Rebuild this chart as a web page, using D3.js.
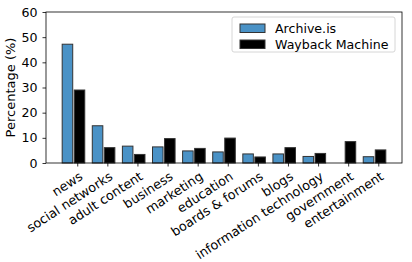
<!DOCTYPE html>
<html lang="en">
<head>
    <meta charset="UTF-8">
    <title>Archive.is vs Wayback Machine by category</title>
    <script src="https://d3js.org/d3.v7.min.js"></script>
    <style>
        body { margin: 0; background: #fff; }
        svg text { font-family: "DejaVu Sans", sans-serif; fill: #000; }
        .axis path, .axis line { stroke: #000; stroke-width: 0.8px; }
    </style>
</head>
<body>
    <svg id="chart"></svg>
    <script>
        // data
        const categories = ["news", "social networks", "adult content", "business", "marketing",
            "education", "boards & forums", "blogs", "information technology", "government", "entertainment"];
        const archiveIs = [47.2, 14.8, 6.7, 6.4, 4.8, 4.4, 3.6, 3.6, 2.6, 0, 2.5];
        const wayback = [29.0, 6.1, 3.4, 9.7, 5.8, 9.9, 2.4, 6.1, 3.8, 8.5, 5.2];
        const yTicks = [0, 10, 20, 30, 40, 50, 60];

        const W = 412, H = 262;
        const plot = { left: 46, right: 402, top: 12, bottom: 163 };
        const barW = 0.35;
        const fs = "12.6px";

        const svg = d3.select("#chart").attr("width", W).attr("height", H);

        // x domain with matplotlib-style 5% margins around the bars
        const lo = -0.5, hi = categories.length - 1 - 0.1 + barW;
        const pad = (hi - lo) * 0.05;
        const x = d3.scaleLinear().domain([lo - pad, hi + pad]).range([plot.left, plot.right]);
        const y = d3.scaleLinear().domain([0, 60]).range([plot.bottom, plot.top]);

        // bars
        svg.append("g").selectAll("rect")
            .data(archiveIs)
            .enter().append("rect")
            .attr("x", (d, i) => x(i - 0.5))
            .attr("width", x(barW) - x(0))
            .attr("y", d => y(d))
            .attr("height", d => y(0) - y(d))
            .attr("fill", "#4a92c6")
            .attr("stroke", "#333")
            .attr("stroke-width", 1);

        svg.append("g").selectAll("rect")
            .data(wayback)
            .enter().append("rect")
            .attr("x", (d, i) => x(i - 0.1))
            .attr("width", x(barW) - x(0))
            .attr("y", d => y(d))
            .attr("height", d => y(0) - y(d))
            .attr("fill", "#000")
            .attr("stroke", "#333")
            .attr("stroke-width", 1);

        // frame
        svg.append("rect")
            .attr("x", plot.left).attr("y", plot.top)
            .attr("width", plot.right - plot.left).attr("height", plot.bottom - plot.top)
            .attr("fill", "none").attr("stroke", "#000").attr("stroke-width", 0.8);

        // y axis
        const yAxis = svg.append("g")
            .attr("class", "axis")
            .attr("transform", `translate(${plot.left},0)`)
            .call(d3.axisLeft(y).tickValues(yTicks).tickSize(3.5).tickPadding(5));
        yAxis.select(".domain").remove();
        yAxis.selectAll("text").style("font-size", fs);

        // x axis
        const xAxis = svg.append("g")
            .attr("class", "axis")
            .attr("transform", `translate(0,${plot.bottom})`)
            .call(d3.axisBottom(x).tickValues(d3.range(categories.length)).tickSize(3.5).tickFormat(""));
        xAxis.select(".domain").remove();

        svg.append("g").selectAll("text")
            .data(categories)
            .enter().append("text")
            .attr("transform", (d, i) => `translate(${x(i) + 1},${plot.bottom + 7.5}) rotate(-33)`)
            .attr("text-anchor", "end")
            .attr("dy", "0.76em")
            .style("font-size", "12.8px")
            .text(d => d);

        // y label
        svg.append("text")
            .attr("transform", `translate(15,${(plot.top + plot.bottom) / 2}) rotate(-90)`)
            .attr("text-anchor", "middle")
            .style("font-size", "13px")
            .text("Percentage (%)");

        // legend
        const legend = svg.append("g").attr("transform", "translate(232,17)");
        legend.append("rect")
            .attr("width", 163).attr("height", 35).attr("rx", 2)
            .attr("fill", "#fff").attr("fill-opacity", 0.8)
            .attr("stroke", "#ccc").attr("stroke-width", 0.8);
        const series = [
            { name: "Archive.is", color: "#4a92c6" },
            { name: "Wayback Machine", color: "#000" }
        ];
        series.forEach((s, i) => {
            const cy = 11 + i * 16;
            legend.append("rect")
                .attr("x", 8).attr("y", cy - 4)
                .attr("width", 25).attr("height", 8.5)
                .attr("fill", s.color).attr("stroke", "#333").attr("stroke-width", 1);
            legend.append("text")
                .attr("x", 43).attr("y", cy)
                .attr("dy", "0.36em")
                .style("font-size", fs)
                .text(s.name);
        });
    </script>
</body>
</html>
